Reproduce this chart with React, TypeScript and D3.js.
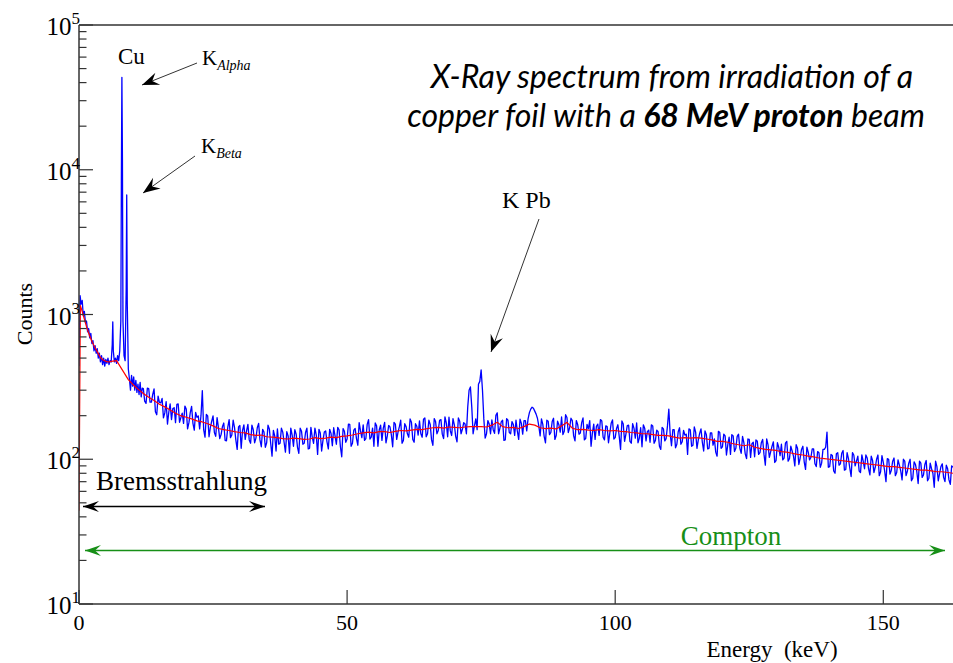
import React from 'react';
import * as d3 from 'd3';

// ---- Data ----
// Low-energy part of the measured spectrum (fine channels around the Cu K lines)
const lowBlueKeV = [0,0.2,0.4,0.6,0.8,1.0,1.2,1.4,1.6,1.8,2.0,2.2,2.4,2.6,2.8,3.0,3.2,3.4,3.6,3.8,4.0,4.2,4.4,4.6,4.8,5.0,5.2,5.4,5.6,5.8,6.0,6.2,6.3,6.4,6.6,6.8,7.0,7.2,7.4,7.6,7.8,7.9,8.0,8.1,8.2,8.4,8.6,8.8,8.9,9.0,9.2,9.4,9.6,9.8,10.0,10.2,10.4,10.6,10.8,11.0,11.2,11.4,11.6,11.8];
const lowBlueCounts = [440,1350,1180,1250,980,1050,880,900,760,800,690,740,630,660,560,610,540,580,500,540,470,520,450,500,440,490,460,500,450,480,470,620,890,560,470,500,460,520,480,560,900,8000,43500,12000,900,520,480,1500,6700,1200,420,360,300,380,320,370,300,350,290,330,280,340,270,310];

// Measured spectrum from 12 keV on, one value every 0.25 keV
const spectrumStartKeV = 12;
const spectrumStepKeV = 0.25;
const spectrumCounts = [
  308,252,243,310,308,248,248,281,306,213,203,273,247,245,263,193,209,250,175,212,
  241,188,224,227,179,239,241,180,194,208,177,233,222,162,179,210,232,177,159,211,
  195,199,162,200,298,160,142,204,199,143,166,183,199,153,144,194,166,139,148,168,
  178,135,134,167,188,141,147,186,166,136,117,167,171,119,158,173,137,157,174,136,
  129,172,160,130,140,165,177,136,122,161,154,121,130,172,162,129,105,158,145,114,
  162,127,129,164,154,131,112,155,145,110,164,147,123,160,149,121,110,164,156,127,
  129,153,164,118,119,166,142,129,164,147,108,161,152,114,135,154,157,132,118,161,
  151,124,165,145,127,166,160,122,104,163,156,131,138,175,174,123,129,159,163,139,
  125,179,157,141,173,135,139,174,188,138,142,164,123,178,170,123,160,172,135,164,
  180,130,145,171,167,148,122,180,175,137,154,168,186,129,135,176,168,150,142,190,
  180,137,131,176,169,147,184,150,142,189,193,143,150,186,174,136,125,191,182,150,
  158,186,188,149,139,196,178,143,195,157,146,191,173,144,132,193,183,150,161,179,
  175,150,230,300,316,230,150,170,190,160,330,345,414,300,190,140,150,185,175,150,
  187,160,151,201,209,150,164,181,186,135,136,191,186,153,150,182,174,146,186,157,
  137,189,177,149,185,185,157,190,210,222,229,225,215,205,192,170,145,190,174,144,
  130,186,183,148,153,182,192,137,146,183,173,154,196,148,156,203,194,153,165,192,
  185,145,134,185,174,149,152,179,193,136,139,174,162,185,123,152,175,137,169,175,
  146,188,184,142,136,170,168,130,152,177,187,138,141,163,173,144,117,184,175,133,
  149,171,172,133,129,176,164,140,178,130,140,165,122,173,164,134,155,159,131,173,
  170,129,135,159,155,123,117,166,162,134,139,170,222,150,124,160,160,120,127,155,
  165,127,132,158,147,149,108,162,160,123,125,167,154,119,136,151,162,131,114,157,
  148,118,119,152,152,125,138,112,105,156,153,119,122,149,145,107,126,142,108,148,
  145,113,119,144,149,119,110,144,130,109,101,138,137,103,128,131,104,136,133,108,
  111,130,137,108,91,138,126,103,113,123,132,95,98,130,121,106,127,99,102,129,
  133,97,101,123,114,105,90,126,119,92,102,117,123,96,85,121,112,99,103,118,
  118,93,89,113,111,88,94,117,117,121,154,88,89,108,106,83,80,109,111,91,
  93,110,115,84,85,111,101,87,76,111,107,90,97,105,83,81,107,97,86,107,
  102,86,78,105,98,81,88,100,107,77,82,106,95,83,70,101,100,79,84,97,
  102,77,81,99,91,83,72,100,97,77,83,94,100,71,74,96,92,82,68,97,
  94,75,78,92,98,71,74,94,86,80,64,97,89,71,80,89,93,75,70,91,
  86,72,67,90,88
];

// Smoothed background (red)
const redLowKeV = [0,0.25,0.5,1,1.5,2,2.5,3,3.5,4,4.5,5,5.5,6,7,9.2,10,11];
const redLowCounts = [44,1150,1080,930,800,710,640,590,545,505,485,475,470,475,480,355,330,305];
const redStartKeV = 12;
const redCounts = [
  285,268,255,240,230,219,208,200,195,190,
  184,181,176,170,163,160,158,155,153,152,
  148,146,147,143,142,141,139,138,140,139,
  137,138,141,139,140,142,141,144,145,147,
  150,152,154,152,155,155,153,156,158,157,
  159,161,160,163,165,166,164,167,166,165,
  167,168,168,168,167,172,180,168,165,166,
  163,168,175,172,165,163,164,162,170,180,
  164,160,161,159,158,160,158,157,158,156,
  155,153,152,150,150,148,146,146,145,142,
  140,141,140,141,140,138,136,133,133,131,
  128,126,124,126,121,119,117,116,115,113,
  112,110,108,107,105,104,102,101,100,99,
  98,97,96,95,94,93,92,91,90,89,
  89,88,87,86,85,84,84,83,82,82,
  81,80
];

const xTickValues = [0, 50, 100, 150];
const xDomain = [0, 163];
const yDomain = [10, 100000];

const titleLine1 = 'X-Ray spectrum from irradiation of a';
const titleLine2a = 'copper foil with a ';
const titleLine2b = '68 MeV proton';
const titleLine2c = ' beam';

const serif = '"Liberation Serif", "Times New Roman", serif';
const titleFont = "Lato, 'Open Sans', sans-serif";

export default function App() {
  const W = 953, H = 663;
  const x = d3.scaleLinear().domain(xDomain).range([79, 953]);
  const y = d3.scaleLog().domain(yDomain).range([604, 25]);

  const bluePts: [number, number][] = [
    ...lowBlueKeV.map((e, i) => [e, lowBlueCounts[i]] as [number, number]),
    ...spectrumCounts.map((c, i) => [spectrumStartKeV + i * spectrumStepKeV, c] as [number, number]),
  ];
  const redPts: [number, number][] = [
    ...redLowKeV.map((e, i) => [e, redLowCounts[i]] as [number, number]),
    ...redCounts.map((c, i) => [redStartKeV + i, c] as [number, number]),
  ];
  const line = d3.line<[number, number]>().x(d => x(d[0])).y(d => y(d[1]));

  const yTicks = y.ticks();
  const isMajor = (t: number) => Math.abs(Math.log10(t) - Math.round(Math.log10(t))) < 1e-9;

  const axisColor = '#333';
  const green = '#178f17';

  return (
    <div style={{ position: 'absolute', left: 0, top: 0 }}>
      <svg width={W} height={H} style={{ display: 'block', background: '#fff' }}>
        <defs>
          <clipPath id="plotClip">
            <rect x={79} y={25} width={874} height={579} />
          </clipPath>
          <marker id="ahBlack" viewBox="-18 -8 20 16" refX={0} refY={0} markerWidth={20} markerHeight={16} markerUnits="userSpaceOnUse" orient="auto">
            <path d="M0,0 L-17,-6.5 L-11,0 L-17,6.5 Z" fill="#000" />
          </marker>
          <marker id="ahBrems" viewBox="-18 -8 20 16" refX={0} refY={0} markerWidth={20} markerHeight={16} markerUnits="userSpaceOnUse" orient="auto-start-reverse">
            <path d="M0,0 L-16,-5.5 L-10,0 L-16,5.5 Z" fill="#000" />
          </marker>
          <marker id="ahGreen" viewBox="-18 -8 20 16" refX={0} refY={0} markerWidth={20} markerHeight={16} markerUnits="userSpaceOnUse" orient="auto-start-reverse">
            <path d="M0,0 L-16,-5.5 L-10,0 L-16,5.5 Z" fill={green} />
          </marker>
        </defs>

        {/* data */}
        <g clipPath="url(#plotClip)">
          <path d={line(bluePts) || ''} fill="none" stroke="#0000ff" strokeWidth={1.3} strokeLinejoin="round" />
          <path d={line(redPts) || ''} fill="none" stroke="#ff0000" strokeWidth={1.2} strokeLinejoin="round" />
        </g>

        {/* frame / axes */}
        <line x1={79} y1={25} x2={953} y2={25} stroke={axisColor} strokeWidth={1.5} />
        <line x1={79} y1={25} x2={79} y2={604} stroke={axisColor} strokeWidth={1.5} />
        <line x1={79} y1={604} x2={953} y2={604} stroke={axisColor} strokeWidth={1.5} />

        {/* y ticks */}
        {yTicks.map(t => (
          <line key={'yt' + t} x1={79} x2={79 + (isMajor(t) ? 14 : 7.5)} y1={y(t)} y2={y(t)} stroke={axisColor} strokeWidth={1.2} />
        ))}
        {yTicks.filter(isMajor).map(t => (
          <text key={'yl' + t} x={80} y={y(t) + 10} textAnchor="end" fontFamily={serif} fontSize={25} fill="#000">
            10<tspan dy={-11} fontSize={17}>{Math.round(Math.log10(t))}</tspan>
          </text>
        ))}

        {/* x ticks */}
        {xTickValues.map(t => (
          <g key={'xt' + t}>
            <line x1={x(t)} x2={x(t)} y1={604} y2={590} stroke={axisColor} strokeWidth={1.2} />
            <text x={x(t)} y={630} textAnchor="middle" fontFamily={serif} fontSize={22} fill="#000">{t}</text>
          </g>
        ))}

        {/* axis titles */}
        <text x={772} y={657} textAnchor="middle" fontFamily={serif} fontSize={23} fill="#000" style={{ whiteSpace: 'pre' }}>{'Energy  (keV)'}</text>
        <text transform="translate(32,314) rotate(-90)" textAnchor="middle" fontFamily={serif} fontSize={22} fill="#000">Counts</text>

        {/* annotations */}
        <text x={118} y={64} fontFamily={serif} fontSize={23} fill="#000">Cu</text>
        <text x={202} y={65} fontFamily={serif} fontSize={21} fill="#000">
          K<tspan dy={5} fontSize={14} fontStyle="italic">Alpha</tspan>
        </text>
        <line x1={197} y1={63} x2={142} y2={85} stroke="#333" strokeWidth={1} markerEnd="url(#ahBlack)" />
        <text x={201} y={153} fontFamily={serif} fontSize={21} fill="#000">
          K<tspan dy={5} fontSize={14} fontStyle="italic">Beta</tspan>
        </text>
        <line x1={195} y1={156} x2={143} y2={193} stroke="#333" strokeWidth={1} markerEnd="url(#ahBlack)" />
        <text x={502} y={208} fontFamily={serif} fontSize={24} fill="#000">K Pb</text>
        <line x1={539} y1={219} x2={491} y2={352} stroke="#333" strokeWidth={1} markerEnd="url(#ahBlack)" />

        <text x={96} y={490} fontFamily={serif} fontSize={27} fill="#000">Bremsstrahlung</text>
        <line x1={83} y1={506.5} x2={265} y2={506.5} stroke="#000" strokeWidth={1.3} markerStart="url(#ahBrems)" markerEnd="url(#ahBrems)" />

        <text x={731} y={545} textAnchor="middle" fontFamily={serif} fontSize={27} fill={green}>Compton</text>
        <line x1={85} y1={550.5} x2={945} y2={550.5} stroke={green} strokeWidth={1.3} markerStart="url(#ahGreen)" markerEnd="url(#ahGreen)" />

        {/* title */}
        <text x={672} y={88} textAnchor="middle" fontFamily={titleFont} fontStyle="italic" fontSize={32} fill="#000">{titleLine1}</text>
        <text x={666} y={127} textAnchor="middle" fontFamily={titleFont} fontStyle="italic" fontSize={32} fill="#000" style={{ whiteSpace: 'pre' }}>
          {titleLine2a}<tspan fontWeight="bold">{titleLine2b}</tspan>{titleLine2c}
        </text>
      </svg>
    </div>
  );
}
